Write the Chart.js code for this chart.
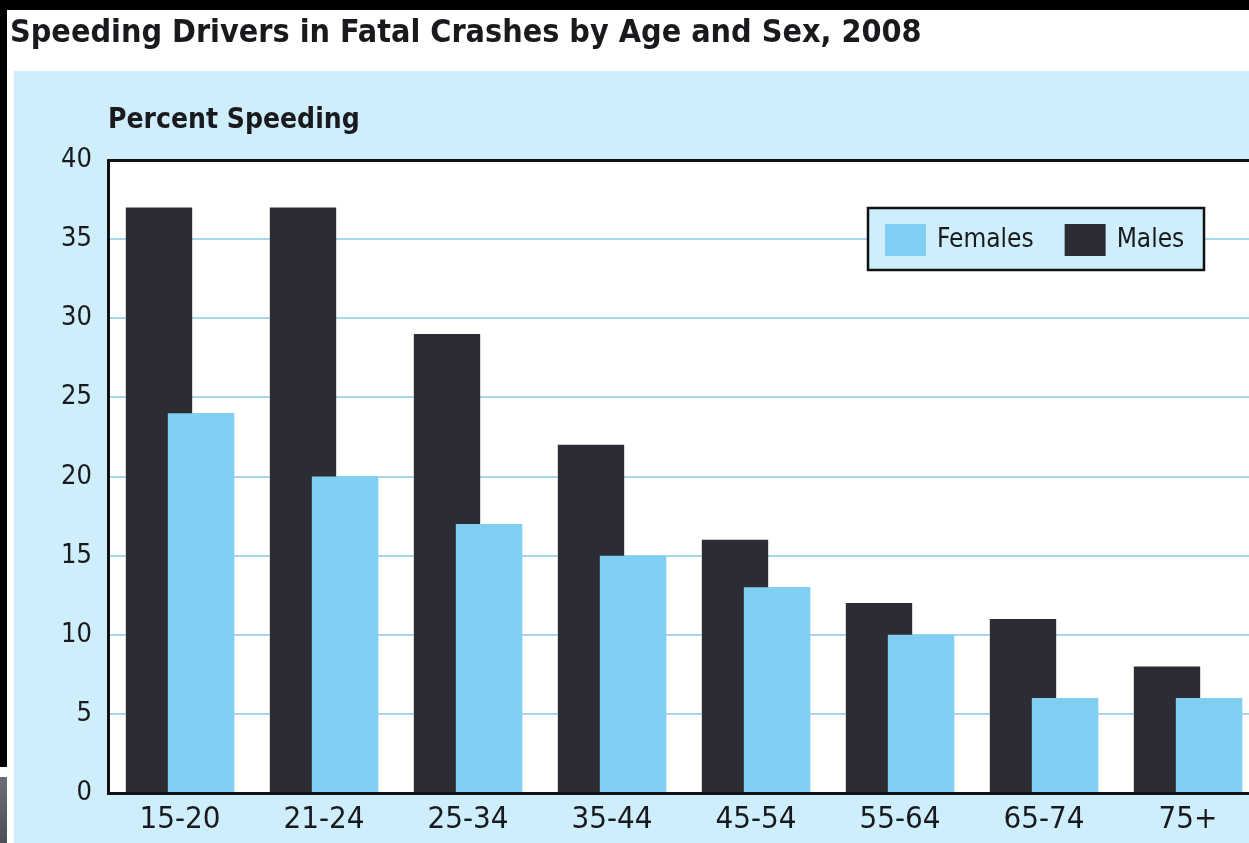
<!DOCTYPE html>
<html>
<head>
<meta charset="utf-8">
<title>Speeding Drivers in Fatal Crashes by Age and Sex, 2008</title>
<script src="https://cdn.jsdelivr.net/npm/chart.js@4.4.0/dist/chart.umd.min.js"></script>
<style>
  html, body { margin: 0; padding: 0; background: #fff; overflow: hidden; width: 1249px; height: 843px; }
  #topbar { position: absolute; left: 0; top: 0; width: 1249px; height: 10px; background: #000; }
  #leftbar { position: absolute; left: 0; top: 0; width: 7px; height: 767px; background: #000; }
  #corner { position: absolute; left: 0; top: 777px; width: 7px; height: 66px; background: linear-gradient(#6b6e78, #4c4f58); }
  #panel { position: absolute; left: 14px; top: 71px; right: 0; bottom: 0; background: #cdeefa; }
  #wrap { position: absolute; left: 0; top: 0; width: 1265px; height: 843px; }
</style>
</head>
<body>
<div id="topbar"></div>
<div id="leftbar"></div>
<div id="corner"></div>
<div id="panel"></div>
<div id="wrap"><canvas id="speeding"></canvas></div>
<script>
  // data
  const ageGroups = ['15-20', '21-24', '25-34', '35-44', '45-54', '55-64', '65-74', '75+'];
  const malesPct = [37, 37, 29, 22, 16, 12, 11, 8];
  const femalesPct = [24, 20, 17, 15, 13, 10, 6, 6];
  const yMax = 40;
  const yStep = 5;

  const panelBlue = '#cdeefa';
  const femaleBlue = '#80cff2';
  const maleDark = '#2c2c35';
  const gridBlue = '#a6d8ec';
  const ink = '#1a1a1e';
  const narrow = '"Liberation Sans Narrow", "DejaVu Sans Condensed", "Liberation Sans", sans-serif';

  //==============================================================
  // white plot area
  const plotBackground = {
    id: 'plotBackground',
    beforeDraw(chart) {
      const { ctx, chartArea: a } = chart;
      ctx.save();
      ctx.fillStyle = '#fff';
      ctx.fillRect(a.left, a.top, a.right - a.left, a.bottom - a.top);
      ctx.restore();
    }
  };

  // females overlap the males bars, so paint them again on top
  const femalesOnTop = {
    id: 'femalesOnTop',
    afterDatasetsDraw(chart) {
      const meta = chart.getDatasetMeta(1);
      if (meta && meta.visible) meta.controller.draw();
    }
  };

  // boxed legend inside the plot, top right
  const boxLegend = {
    id: 'boxLegend',
    afterDraw(chart) {
      const { ctx, chartArea: a } = chart;
      const x = a.right - 392, y = a.top + 48, w = 336, h = 62;
      ctx.save();
      ctx.fillStyle = panelBlue;
      ctx.fillRect(x, y, w, h);
      ctx.lineWidth = 2.5;
      ctx.strokeStyle = '#111';
      ctx.strokeRect(x, y, w, h);
      ctx.font = '26px ' + narrow;
      ctx.textBaseline = 'middle';
      let cx = x + 17;
      [1, 0].forEach((i) => {
        const ds = chart.data.datasets[i];
        ctx.fillStyle = ds.backgroundColor;
        ctx.fillRect(cx, y + 16, 41, 32);
        ctx.fillStyle = ink;
        ctx.fillText(ds.label, cx + 52, y + h / 2 + 1);
        cx += 52 + ctx.measureText(ds.label).width + 31;
      });
      ctx.restore();
    }
  };
  //==============================================================

  const graph = document.getElementById('speeding');

  const myChart = new Chart(graph, {
    type: 'bar',
    data: {
      labels: ageGroups,
      datasets: [{
        label: 'Males',
        data: malesPct,
        backgroundColor: maleDark,
        categoryPercentage: 0.5833,
        barPercentage: 1.58
      }, {
        label: 'Females',
        data: femalesPct,
        backgroundColor: femaleBlue,
        categoryPercentage: 0.5833,
        barPercentage: 1.58
      }]
    },
    options: {
      responsive: true,
      maintainAspectRatio: false,
      animation: false,
      layout: { padding: { left: 10, right: 5, top: 0, bottom: 2 } },
      plugins: {
        legend: { display: false },
        tooltip: { enabled: false },
        title: {
          display: true,
          text: 'Speeding Drivers in Fatal Crashes by Age and Sex, 2008',
          align: 'start',
          color: ink,
          font: { family: narrow, size: 32, weight: 'bold' },
          padding: { top: 14, bottom: 52 }
        },
        subtitle: {
          display: true,
          fullSize: false,
          text: 'Percent Speeding',
          align: 'start',
          color: ink,
          font: { family: narrow, size: 28, weight: 'bold' },
          padding: { top: 0, bottom: 22 }
        }
      },
      scales: {
        x: {
          z: 1,
          afterFit: (scale) => { scale.height = 48; },
          grid: { display: false },
          border: { display: true, color: '#111', width: 3 },
          ticks: { color: ink, padding: 0, font: { family: narrow, size: 31 } }
        },
        y: {
          min: 0,
          max: yMax,
          afterFit: (scale) => { scale.width = 98; },
          grid: {
            drawTicks: false,
            color: (c) => c.tick && c.tick.value === yMax ? '#111' : gridBlue,
            lineWidth: (c) => c.tick && c.tick.value === yMax ? 3 : 2
          },
          border: { display: true, color: '#111', width: 3 },
          ticks: { stepSize: yStep, color: ink, padding: 16, font: { family: narrow, size: 27 } }
        }
      }
    },
    plugins: [plotBackground, femalesOnTop, boxLegend]
  });
</script>
</body>
</html>
